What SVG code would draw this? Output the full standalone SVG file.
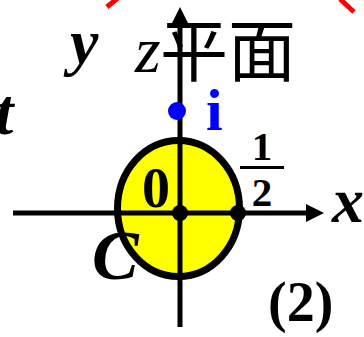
<svg xmlns="http://www.w3.org/2000/svg" width="364" height="337" viewBox="0 0 364 337">
  <style>
    .serif { font-family: "Liberation Serif", "Noto Sans CJK SC", serif; }
    .bi { font-weight: bold; font-style: italic; }
    .b { font-weight: bold; }
    .it { font-style: italic; }
    .axis { stroke: #000; stroke-width: 5; fill: none; }
    .red { stroke: #ff0000; stroke-width: 5; }
    .dot { fill: #000; }
  </style>
  <defs>
    <marker id="arrow" viewBox="0 0 18 18" refX="0" refY="9" markerWidth="18" markerHeight="18" markerUnits="userSpaceOnUse" orient="auto">
      <path d="M0,0 L18,9 L0,18 Z" fill="#000"/>
    </marker>
  </defs>
  <rect width="364" height="337" fill="#ffffff"/>

  <g id="red-marks">
    <line class="red" x1="107" y1="7" x2="119" y2="-3"/>
    <line class="red" x1="340" y1="-1" x2="354" y2="12"/>
  </g>

  <g id="region-C">
    <ellipse cx="178.5" cy="208.5" rx="61" ry="68" fill="#ffff00" stroke="#000" stroke-width="7"/>
  </g>

  <g id="connectors">
    <line class="axis" x1="180" y1="327" x2="180" y2="25" marker-end="url(#arrow)"/>
    <line class="axis" x1="13" y1="213" x2="306" y2="213" marker-end="url(#arrow)"/>
  </g>

  <g id="point-origin">
    <circle class="dot" cx="180" cy="213" r="8"/>
  </g>
  <g id="point-half">
    <circle class="dot" cx="238" cy="213" r="8"/>
  </g>
  <g id="point-i">
    <circle cx="177" cy="111" r="9" fill="#0000ff"/>
    <text class="serif b" x="206" y="130" font-size="60" fill="#0000ff">i</text>
  </g>

  <g id="labels">
    <text class="serif bi" x="-5" y="134" font-size="66">t</text>
    <text class="serif bi" x="70" y="63" font-size="64">y</text>
    <text class="serif it" x="135" y="72" font-size="66">z</text>
    <text class="serif" x="160" y="76" font-size="68">平面</text>
    <text class="serif b" x="142" y="207" font-size="56">0</text>
    <text class="serif b" x="262" y="160" font-size="41" text-anchor="middle">1</text>
    <line x1="240" y1="167.5" x2="284" y2="167.5" stroke="#000" stroke-width="3"/>
    <text class="serif b" x="262" y="206" font-size="41" text-anchor="middle">2</text>
    <text class="serif bi" x="332" y="222" font-size="64">x</text>
    <text class="serif bi" x="92" y="279" font-size="70">C</text>
    <text class="serif b" x="268" y="321" font-size="56">(2)</text>
  </g>
</svg>
